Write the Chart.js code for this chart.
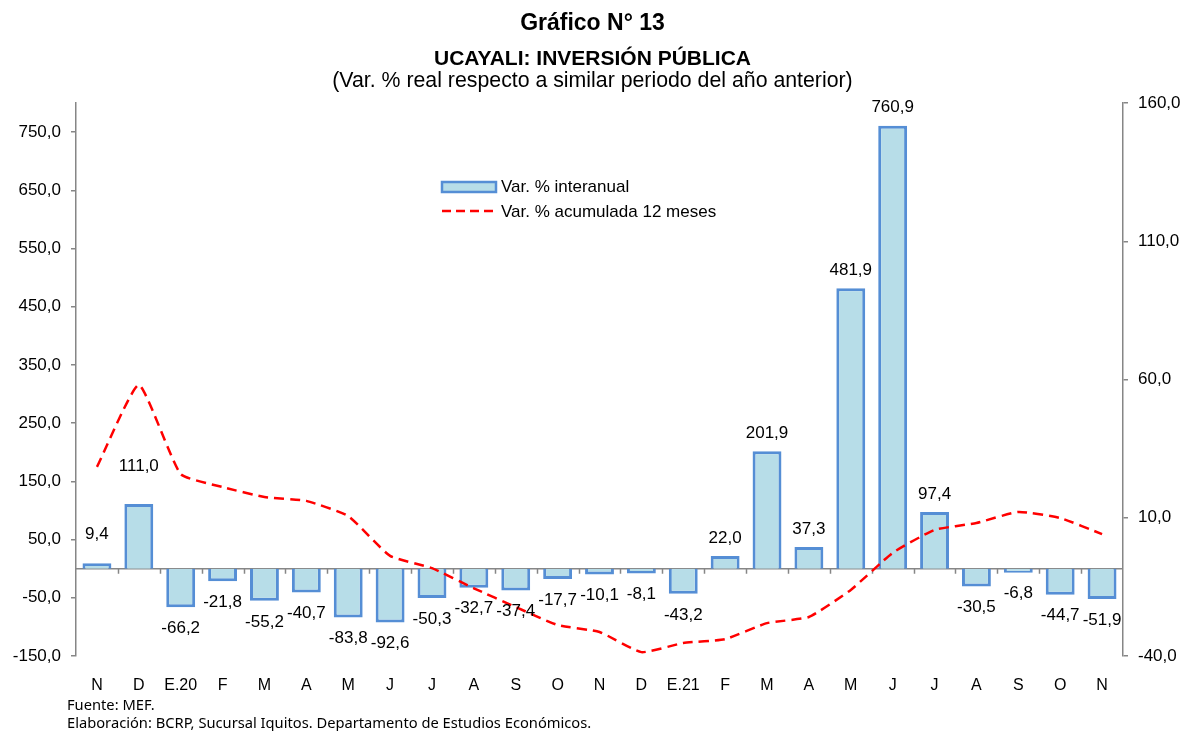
<!DOCTYPE html>
<html>
<head>
<meta charset="utf-8">
<script src="https://cdn.jsdelivr.net/npm/chart.js@4.4.1/dist/chart.umd.min.js"></script>
<style>
  body { margin: 0; background: #fff; }
  #wrap { position: relative; width: 1185px; height: 731px; font-family: "Liberation Sans", Arial, sans-serif; }
  canvas { position: absolute; left: 0; top: 0; }
  .t { position: absolute; left: 0; width: 1185px; text-align: center; color: #000; line-height: 1; }
  .foot { position: absolute; left: 67px; font-family: "Noto Sans", sans-serif; font-size: 14.7px; line-height: 1; color: #000; }
</style>
</head>
<body>
<div id="wrap">
  <canvas id="myChart" width="1185" height="731"></canvas>
  <div class="t" style="top:11px;font-size:23px;font-weight:bold;">Gráfico N° 13</div>
  <div class="t" style="top:47px;font-size:21px;font-weight:bold;">UCAYALI: INVERSIÓN PÚBLICA</div>
  <div class="t" style="top:70px;font-size:21.3px;">(Var. % real respecto a similar periodo del año anterior)</div>
  <div class="foot" style="top:697px;">Fuente: MEF.</div>
  <div class="foot" style="top:715px;">Elaboración: BCRP, Sucursal Iquitos. Departamento de Estudios Económicos.</div>
</div>
<script>
    let labels = ['N', 'D', 'E.20', 'F', 'M', 'A', 'M', 'J', 'J', 'A', 'S', 'O', 'N',
        'D', 'E.21', 'F', 'M', 'A', 'M', 'J', 'J', 'A', 'S', 'O', 'N'];
    let interanual = [9.4, 111.0, -66.2, -21.8, -55.2, -40.7, -83.8, -92.6, -50.3, -32.7, -37.4, -17.7, -10.1,
        -8.1, -43.2, 22.0, 201.9, 37.3, 481.9, 760.9, 97.4, -30.5, -6.8, -44.7, -51.9];
    let acumulada = [28.4, 58.0, 25.8, 21.1, 17.5, 16.1, 10.6, -3.8, -8.2, -15.5, -22.3, -28.8, -31.3,
        -38.6, -35.3, -33.9, -28.1, -25.9, -16.1, -2.7, 5.6, 8.1, 12.1, 9.9, 4.1];
    let leftTicks = [-150, -50, 50, 150, 250, 350, 450, 550, 650, 750];
    let rightTicks = [-40, 10, 60, 110, 160];

    function fmt(v) {
        return v.toFixed(1).replace('.', ',');
    }

    let axisGray = '#868686';
    let barFill = '#B7DDE8';
    let barBorder = '#558ED5';

    // zero line with little tick marks between the bars
    let zeroLine = {
        id: 'zeroLine',
        beforeDatasetsDraw(chart) {
            let ctx = chart.ctx;
            let area = chart.chartArea;
            let y0 = chart.scales.y.getPixelForValue(0);
            let step = (area.right - area.left) / labels.length;
            ctx.save();
            ctx.strokeStyle = axisGray;
            ctx.lineWidth = 1.5;
            ctx.beginPath();
            ctx.moveTo(area.left, y0);
            ctx.lineTo(area.right, y0);
            for (let i = 1; i < labels.length; i++) {
                let x = Math.round(area.left + i * step) + 0.5;
                ctx.moveTo(x, y0);
                ctx.lineTo(x, y0 + 5);
            }
            ctx.stroke();
            ctx.restore();
        }
    };

    // value labels over / under the bars
    let barLabels = {
        id: 'barLabels',
        afterDatasetsDraw(chart) {
            let ctx = chart.ctx;
            let meta = chart.getDatasetMeta(0);
            let nudge = {0: 11, 1: 20};
            ctx.save();
            ctx.font = '17px "Liberation Sans", Arial, sans-serif';
            ctx.fillStyle = '#000';
            ctx.textAlign = 'center';
            ctx.textBaseline = 'middle';
            meta.data.forEach((el, i) => {
                let v = interanual[i];
                let y = v >= 0 ? el.y - 18 - (nudge[i] || 0) : el.y + 21;
                ctx.fillText(fmt(v), el.x, y);
            });
            ctx.restore();
        }
    };

    // legend inside the plot
    let innerLegend = {
        id: 'innerLegend',
        afterDraw(chart) {
            let ctx = chart.ctx;
            ctx.save();
            ctx.fillStyle = barFill;
            ctx.fillRect(442, 182, 54, 10);
            ctx.strokeStyle = barBorder;
            ctx.lineWidth = 2.5;
            ctx.strokeRect(442, 182, 54, 10);
            ctx.strokeStyle = '#FF0000';
            ctx.lineWidth = 2.5;
            ctx.setLineDash([9, 5]);
            ctx.beginPath();
            ctx.moveTo(442, 211);
            ctx.lineTo(494, 211);
            ctx.stroke();
            ctx.setLineDash([]);
            ctx.font = '17px "Liberation Sans", Arial, sans-serif';
            ctx.fillStyle = '#000';
            ctx.textBaseline = 'middle';
            ctx.fillText('Var. % interanual', 501, 187);
            ctx.fillText('Var. % acumulada 12 meses', 501, 212);
            ctx.restore();
        }
    };

    let ctx = document.getElementById('myChart').getContext('2d');
    let myChart = new Chart(ctx, {
        type: 'bar',
        data: {
            labels: labels,
            datasets: [{
                label: 'Var. % interanual',
                data: interanual,
                backgroundColor: barFill,
                borderColor: barBorder,
                borderWidth: 3,
                barPercentage: 0.69,
                categoryPercentage: 1,
                yAxisID: 'y',
                order: 2
            }, {
                type: 'line',
                label: 'Var. % acumulada 12 meses',
                data: acumulada,
                borderColor: '#FF0000',
                borderWidth: 2.5,
                borderDash: [10, 6],
                pointRadius: 0,
                tension: 0.15,
                fill: false,
                yAxisID: 'y1',
                order: 1
            }]
        },
        options: {
            responsive: false,
            animation: false,
            devicePixelRatio: 1,
            layout: { padding: { top: 103, left: 0, right: 0, bottom: 0 } },
            plugins: {
                legend: { display: false },
                tooltip: { enabled: false }
            },
            scales: {
                x: {
                    afterFit(scale) { scale.height = 75; },
                    grid: { display: false },
                    border: { display: false },
                    ticks: {
                        padding: 12,
                        color: '#000',
                        font: { family: '"Liberation Sans", Arial, sans-serif', size: 16 },
                        maxRotation: 0,
                        autoSkip: false
                    }
                },
                y: {
                    position: 'left',
                    min: -150,
                    max: 800,
                    afterFit(scale) { scale.width = 76; },
                    afterBuildTicks(scale) { scale.ticks = leftTicks.map(v => ({value: v})); },
                    grid: { drawOnChartArea: false, tickLength: 5, color: axisGray, lineWidth: 1.5 },
                    border: { color: axisGray, width: 1.5 },
                    ticks: {
                        padding: 10,
                        color: '#000',
                        font: { family: '"Liberation Sans", Arial, sans-serif', size: 17 },
                        callback: v => fmt(v)
                    }
                },
                y1: {
                    position: 'right',
                    min: -40,
                    max: 160,
                    afterFit(scale) { scale.width = 62; },
                    afterBuildTicks(scale) { scale.ticks = rightTicks.map(v => ({value: v})); },
                    grid: { drawOnChartArea: false, tickLength: 5, color: axisGray, lineWidth: 1.5 },
                    border: { color: axisGray, width: 1.5 },
                    ticks: {
                        padding: 10,
                        color: '#000',
                        font: { family: '"Liberation Sans", Arial, sans-serif', size: 17 },
                        callback: v => fmt(v)
                    }
                }
            }
        },
        plugins: [zeroLine, barLabels, innerLegend]
    });
</script>
</body>
</html>
